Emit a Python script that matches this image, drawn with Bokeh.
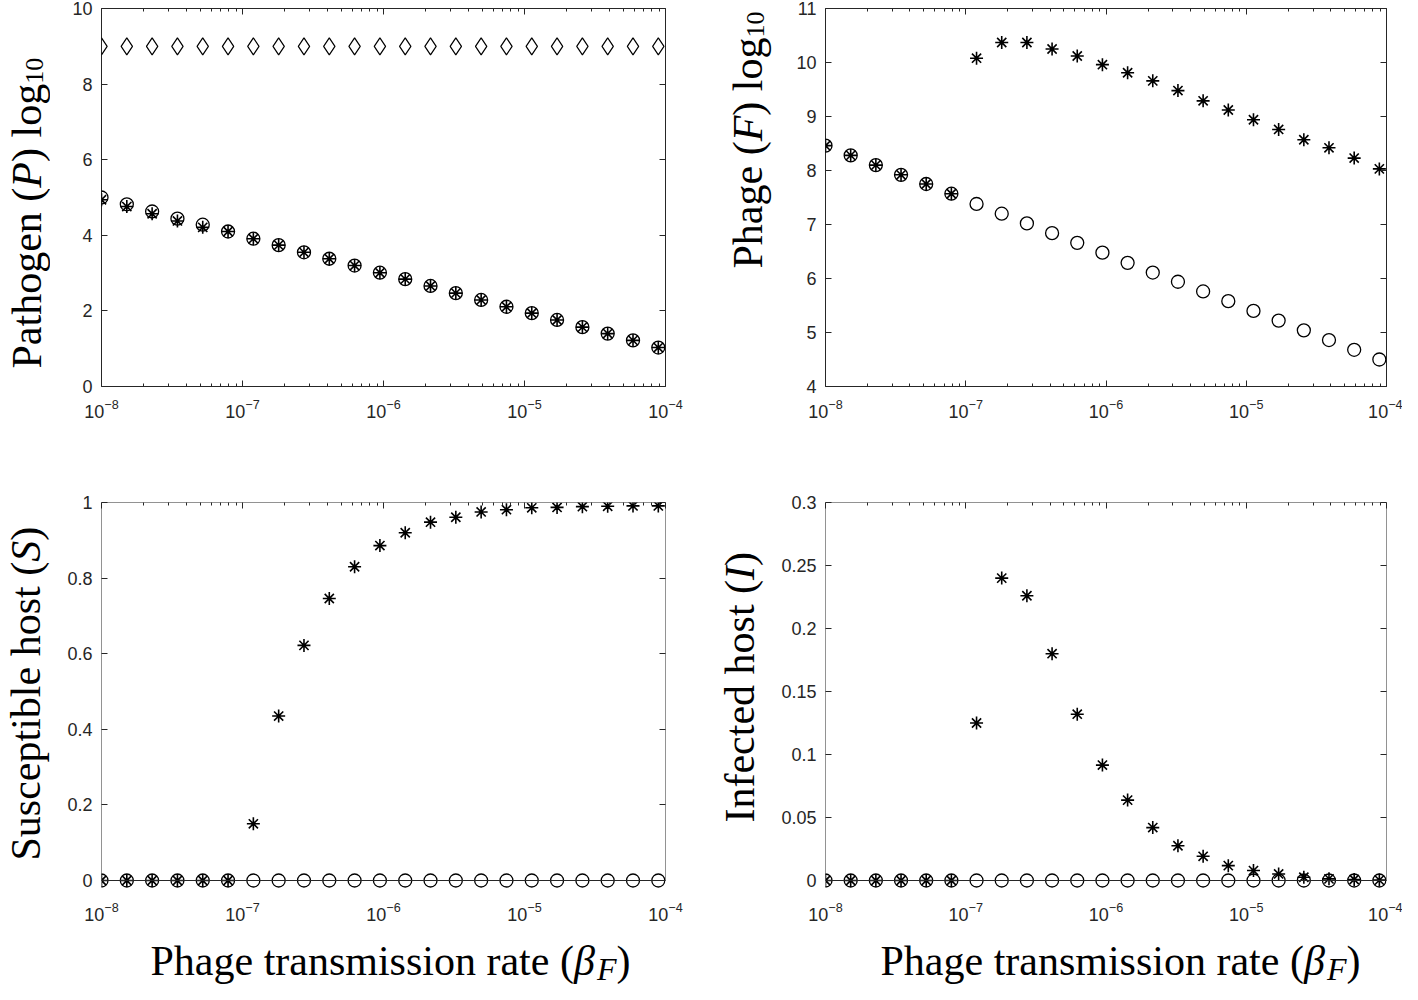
import math
from bokeh.plotting import figure
from bokeh.models import (Range1d, FixedTicker, LogAxis, LinearAxis, BoxAnnotation,
                          Label, NumeralTickFormatter)
from bokeh.layouts import column, row
from bokeh.embed import file_html
from bokeh.resources import INLINE

# ---------------- data ----------------
beta_F = [1.000e-8, 1.512e-8, 2.286e-8, 3.456e-8, 5.224e-8, 7.898e-8,
          1.194e-7, 1.805e-7, 2.729e-7, 4.126e-7, 6.237e-7, 9.430e-7,
          1.426e-6, 2.155e-6, 3.258e-6, 4.926e-6, 7.447e-6,
          1.126e-5, 1.702e-5, 2.574e-5, 3.890e-5, 5.882e-5, 8.892e-5]

x_ticks = [1e-8, 1e-7, 1e-6, 1e-5, 1e-4]

pathogen_diamond = [9.0, 9.0, 9.0, 9.0, 9.0, 9.0, 9.0, 9.0, 9.0, 9.0, 9.0, 9.0,
                    9.0, 9.0, 9.0, 9.0, 9.0, 9.0, 9.0, 9.0, 9.0, 9.0, 9.0]
pathogen_circle = [5.00, 4.82, 4.63, 4.44, 4.28, 4.10, 3.91, 3.74, 3.55, 3.38, 3.20, 3.01,
                   2.84, 2.66, 2.47, 2.29, 2.11, 1.94, 1.76, 1.57, 1.40, 1.22, 1.03]
pathogen_star = [4.94, 4.76, 4.57, 4.38, 4.21, 4.10, 3.91, 3.74, 3.55, 3.38, 3.20, 3.01,
                 2.84, 2.66, 2.47, 2.29, 2.11, 1.94, 1.76, 1.57, 1.40, 1.22, 1.03]

phage_circle = [8.46, 8.28, 8.10, 7.92, 7.75, 7.57, 7.38, 7.20, 7.02, 6.84, 6.66, 6.48,
                6.29, 6.11, 5.94, 5.76, 5.58, 5.40, 5.22, 5.04, 4.86, 4.68, 4.50]
phage_star = [8.46, 8.28, 8.10, 7.92, 7.75, 7.57, 10.08, 10.37, 10.37, 10.25, 10.12, 9.96,
              9.81, 9.66, 9.48, 9.29, 9.12, 8.94, 8.76, 8.57, 8.42, 8.23, 8.03]

susceptible_circle = [0, 0, 0, 0, 0, 0, 0, 0, 0, 0, 0, 0,
                      0, 0, 0, 0, 0, 0, 0, 0, 0, 0, 0]
susceptible_star = [0, 0, 0, 0, 0, 0, 0.150, 0.435, 0.622, 0.746, 0.830, 0.886,
                    0.920, 0.948, 0.961, 0.975, 0.981, 0.986, 0.987, 0.989, 0.990, 0.991, 0.991]

infected_circle = [0, 0, 0, 0, 0, 0, 0, 0, 0, 0, 0, 0,
                   0, 0, 0, 0, 0, 0, 0, 0, 0, 0, 0]
infected_star = [0, 0, 0, 0, 0, 0, 0.125, 0.240, 0.226, 0.180, 0.132, 0.0916,
                 0.0638, 0.042, 0.0276, 0.0192, 0.0118, 0.0079, 0.0052, 0.0026, 0.0013, 0.0008, 0.0003]

ticks_P = [0, 2, 4, 6, 8, 10]
ticks_F = [4, 5, 6, 7, 8, 9, 10, 11]
ticks_S = [0, 0.2, 0.4, 0.6, 0.8, 1]
ticks_I = [0, 0.05, 0.1, 0.15, 0.2, 0.25, 0.3]

# ---------------- styling ----------------
AXC = "#262626"
TICK_FONT = "Liberation Sans"
TICK_SIZE = "18px"
SERIF = "Liberation Serif"
TSIZE = 42
BOX_H = 378
PAD = 9

W_REG = {' ': .25, '(': .333, ')': .333, 'P': .556, 'S': .556, 'I': .333, 'F': .556,
         'a': .444, 'b': .5, 'c': .444, 'd': .5, 'e': .444, 'f': .333, 'g': .5, 'h': .5,
         'i': .278, 'l': .278, 'm': .778, 'n': .5, 'o': .5, 'p': .5, 'r': .333, 's': .389,
         't': .278, 'u': .5, '0': .5, '1': .5, 'β': .55}
W_IT = {'P': .611, 'F': .611, 'S': .5, 'I': .333, 'β': .55}

minor_x = [m * 10.0 ** e for e in range(-8, -4) for m in range(2, 10)]

# layout geometry (canvas pixels)
TOP_H = 470
TOP_MBT = 8
TOP_MBB = TOP_H - TOP_MBT - BOX_H
BOT_MBT = 32
BOT_MBB = 35
BOT_H = BOT_MBT + BOX_H + PAD + BOT_MBB
STRIP_H = 64
WTA, WA, WTB, WB = 50, 646, 76, 630

top_frame = (TOP_MBT, TOP_MBT + BOX_H)
bot_frame = (TOP_H + BOT_MBT, TOP_H + BOT_MBT + BOX_H + PAD)
strip_frame = (TOP_H + BOT_H, TOP_H + BOT_H + STRIP_H)


def blank(width, height, mbt, mbb, frame):
    f = figure(width=width, height=height, x_range=Range1d(0, width),
               y_range=Range1d(frame[1], frame[0]),
               output_backend="svg", toolbar_location=None,
               x_axis_location=None, y_axis_location=None,
               min_border_left=0, min_border_right=0,
               min_border_top=mbt, min_border_bottom=mbb)
    f.outline_line_color = None
    f.grid.visible = False
    f.background_fill_color = "white"
    f.border_fill_color = "white"
    return f


def rich_label(p, pieces, x0, y0, vertical):
    # coordinates are canvas pixels, y growing downwards
    pos = 0.0
    for text, italic, size, shift in pieces:
        table = W_IT if italic else W_REG
        w = sum(table.get(c, W_REG.get(c, .5)) for c in text) * size
        if vertical:
            lab = Label(x=x0 + shift, y=y0 - pos, angle=math.pi / 2)
        else:
            lab = Label(x=x0 + pos, y=y0 + shift)
        lab.text = text
        lab.text_font = SERIF
        lab.text_font_size = f"{size}px"
        lab.text_font_style = "italic" if italic else "normal"
        lab.text_color = "black"
        lab.text_align = "left"
        lab.text_baseline = "alphabetic"
        p.add_layout(lab)
        pos += w


def make_panel(width, height, mbl, mbr, mbt, mbb, ytop, yticks, yfmt, bottom_row):
    if bottom_row:
        y0 = -ytop * PAD / BOX_H
    else:
        y0 = yticks[0]
    p = figure(width=width, height=height, x_axis_type="log",
               x_range=Range1d(1e-8, 1e-4), y_range=Range1d(y0, ytop),
               output_backend="svg", toolbar_location=None,
               min_border_left=mbl, min_border_right=mbr,
               min_border_top=mbt, min_border_bottom=mbb)
    p.grid.visible = False
    p.background_fill_color = "white"
    p.border_fill_color = "white"

    xa = p.xaxis[0]
    xa.ticker = FixedTicker(ticks=x_ticks, minor_ticks=minor_x)
    xa.axis_line_color = None
    xa.major_label_text_font = TICK_FONT
    xa.major_label_text_font_size = TICK_SIZE
    xa.major_label_text_color = AXC
    if bottom_row:
        xa.major_tick_line_color = None
        xa.minor_tick_line_color = None
        xa.major_label_standoff = 6
    else:
        xa.major_tick_in = 6
        xa.major_tick_out = 0
        xa.minor_tick_in = 3
        xa.minor_tick_out = 0
        xa.major_tick_line_color = AXC
        xa.minor_tick_line_color = AXC
        xa.major_label_standoff = 12

    ya = p.yaxis[0]
    ya.ticker = FixedTicker(ticks=yticks)
    ya.formatter = NumeralTickFormatter(format=yfmt)
    ya.axis_line_color = None
    ya.major_tick_in = 6
    ya.major_tick_out = 0
    ya.minor_tick_line_color = None
    ya.major_tick_line_color = AXC
    ya.major_label_text_font = TICK_FONT
    ya.major_label_text_font_size = TICK_SIZE
    ya.major_label_text_color = AXC
    ya.major_label_standoff = 9

    top = LogAxis(ticker=FixedTicker(ticks=x_ticks, minor_ticks=minor_x))
    right = LinearAxis(ticker=FixedTicker(ticks=yticks))
    for ax in (top, right):
        ax.axis_line_color = None
        ax.major_tick_in = 6
        ax.major_tick_out = 0
        ax.minor_tick_in = 3
        ax.minor_tick_out = 0
        ax.major_tick_line_color = AXC
        ax.minor_tick_line_color = AXC
        ax.major_label_text_font_size = "0px"
        ax.major_label_text_alpha = 0
        ax.major_label_standoff = 0
    right.minor_tick_line_color = None
    p.add_layout(top, "above")
    p.add_layout(right, "right")

    if bottom_row:
        p.outline_line_color = None
        p.add_layout(BoxAnnotation(left=1e-8, right=1e-4, bottom=0, top=ytop,
                                   fill_alpha=0, fill_color=None,
                                   line_color=AXC, line_width=1, line_alpha=1))
    else:
        p.outline_line_color = AXC
        p.outline_line_width = 1
        p.outline_line_alpha = 1
    return p


def circles(p, y):
    p.scatter(beta_F, y, marker="circle", size=13, fill_color=None,
              line_color="black", line_width=1.3)


def stars(p, y):
    p.scatter(beta_F, y, marker="asterisk", size=13,
              line_color="black", line_width=1.6)


# top-left: Pathogen
pA = make_panel(WA, TOP_H, 51, 31, TOP_MBT, TOP_MBB, 10, ticks_P, "0", False)
pA.scatter(beta_F, pathogen_diamond, marker="diamond", size=17, fill_color=None,
           line_color="black", line_width=1.2)
circles(pA, pathogen_circle)
stars(pA, pathogen_star)

# top-right: Phage
pB = make_panel(WB, TOP_H, 53, 16, TOP_MBT, TOP_MBB, 11, ticks_F, "0", False)
circles(pB, phage_circle)
stars(pB, phage_star)

# bottom-left: Susceptible host
pC = make_panel(WA, BOT_H, 51, 31, BOT_MBT, BOT_MBB, 1, ticks_S, "0.[0]", True)
circles(pC, susceptible_circle)
stars(pC, susceptible_star)

# bottom-right: Infected host
pD = make_panel(WB, BOT_H, 53, 16, BOT_MBT, BOT_MBB, 0.3, ticks_I, "0.[00]", True)
circles(pD, infected_circle)
stars(pD, infected_star)

# y-axis titles (separate blank figures so that the text is not clipped)
tA = blank(WTA, TOP_H, TOP_MBT, TOP_MBB, top_frame)
rich_label(tA, [("Pathogen (", False, TSIZE, 0), ("P", True, TSIZE, 0),
                (") log", False, TSIZE, 0), ("10", False, 26, 8)], 26, 368, True)
tB = blank(WTB, TOP_H, TOP_MBT, TOP_MBB, top_frame)
rich_label(tB, [("Phage (", False, TSIZE, 0), ("F", True, TSIZE, 0),
                (") log", False, TSIZE, 0), ("10", False, 26, 8)], 51, 268, True)
tC = blank(WTA, BOT_H, BOT_MBT, BOT_MBB, bot_frame)
rich_label(tC, [("Susceptible host (", False, TSIZE, 0), ("S", True, TSIZE, 0),
                (")", False, TSIZE, 0)], 25, 860, True)
tD = blank(WTB, BOT_H, BOT_MBT, BOT_MBB, bot_frame)
rich_label(tD, [("Infected host (", False, TSIZE, 0), ("I", True, TSIZE, 0),
                (")", False, TSIZE, 0)], 43, 822, True)

# x-axis titles
strip = blank(WTA + WA + WTB + WB, STRIP_H, 0, 0, strip_frame)
for x0 in (150, 880):
    rich_label(strip, [("Phage transmission rate (", False, TSIZE, 0), ("β", True, TSIZE, 0),
                       ("F", True, 32, 8), (")", False, TSIZE, 0)], x0, 960, False)

layout = column(row(tA, pA, tB, pB), row(tC, pC, tD, pD), strip)
open("out.html", "w").write(file_html(layout, INLINE))
